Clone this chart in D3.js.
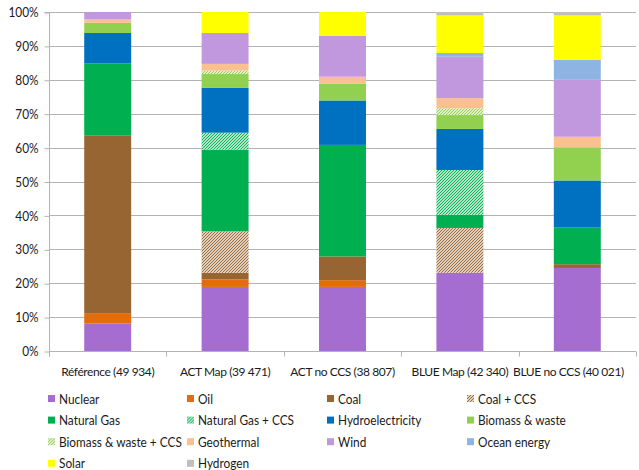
<!DOCTYPE html>
<html>
<head>
<meta charset="utf-8">
<script src="https://cdn.jsdelivr.net/npm/d3@7"></script>
<style>
  html, body { margin: 0; padding: 0; background: #fff; }
  svg { display: block; font-family: Lato, "Open Sans", sans-serif; }
</style>
</head>
<body>
<svg id="chart" width="639" height="470"></svg>
<script>
// Scenario columns
const categories = ["Référence (49 934)", "ACT Map (39 471)", "ACT no CCS (38 807)", "BLUE Map (42 340)", "BLUE no CCS (40 021)"];

// Share of electricity generation by source, in percent, one value per scenario
const nuclear       = [8.1, 18.9, 18.9, 23.1, 24.5];
const oil           = [2.9, 2.2, 2.0, 0, 0];
const coal          = [52.5, 2.0, 7.0, 0, 1.1];
const coalCcs       = [0, 12.2, 0, 13.2, 0];
const naturalGas    = [21.3, 24.1, 32.9, 3.9, 10.8];
const naturalGasCcs = [0, 5.0, 0, 13.2, 0];
const hydro         = [9.0, 13.2, 13.1, 12.1, 13.9];
const biomass       = [3.0, 4.1, 4.9, 4.1, 9.8];
const biomassCcs    = [0, 1.0, 0, 2.0, 0];
const geothermal    = [1.0, 2.0, 2.1, 3.0, 3.1];
const wind          = [2.2, 9.1, 12.1, 12.2, 16.8];
const ocean         = [0, 0, 0, 1.1, 5.9];
const solar         = [0, 6.2, 7.0, 11.1, 13.1];
const hydrogen      = [0, 0, 0, 1.0, 1.0];

const yTicks = [0, 10, 20, 30, 40, 50, 60, 70, 80, 90, 100];

const series = [
  { name: "Nuclear",                values: nuclear,       color: "#A46DCF" },
  { name: "Oil",                    values: oil,           color: "#E46C0A" },
  { name: "Coal",                   values: coal,          color: "#976532" },
  { name: "Coal + CCS",             values: coalCcs,       color: "#976532", hatch: true },
  { name: "Natural Gas",            values: naturalGas,    color: "#00B050" },
  { name: "Natural Gas + CCS",      values: naturalGasCcs, color: "#00B050", hatch: true },
  { name: "Hydroelectricity",       values: hydro,         color: "#0070C0" },
  { name: "Biomass & waste",        values: biomass,       color: "#92D050" },
  { name: "Biomass & waste + CCS",  values: biomassCcs,    color: "#92D050", hatch: true },
  { name: "Geothermal",             values: geothermal,    color: "#FAC090" },
  { name: "Wind",                   values: wind,          color: "#C198DE" },
  { name: "Ocean energy",           values: ocean,         color: "#8EB4E3" },
  { name: "Solar",                  values: solar,         color: "#FFFF00" },
  { name: "Hydrogen",               values: hydrogen,      color: "#BFBFBF" }
];

const svg = d3.select("#chart");
const margin = { left: 49, right: 3, top: 12, bottom: 119 };
const W = 639, H = 470;
const textColor = "#1a1a1a";
const condense = 0.91;

const x = d3.scaleBand()
  .domain(categories)
  .range([margin.left, W - margin.right])
  .paddingInner(0.6)
  .paddingOuter(0.3);

const y = d3.scaleLinear()
  .domain([0, 100])
  .range([H - margin.bottom, margin.top]);

// Diagonal hatch patterns for the CCS variants
const defs = svg.append("defs");
series.filter(s => s.hatch).forEach((s, i) => {
  s.patternId = "hatch" + i;
  const p = defs.append("pattern")
    .attr("id", s.patternId)
    .attr("patternUnits", "userSpaceOnUse")
    .attr("width", 3).attr("height", 3);
  p.append("rect").attr("width", 3).attr("height", 3).attr("fill", "#fff");
  p.append("path")
    .attr("d", "M-0.75,0.75 L0.75,-0.75 M0,3 L3,0 M2.25,3.75 L3.75,2.25")
    .attr("stroke", s.color)
    .attr("stroke-width", 1.15);
});
const fillOf = s => s.hatch ? `url(#${s.patternId})` : s.color;

// Horizontal gridlines
svg.append("g")
  .selectAll("line")
  .data(yTicks.filter(t => t > 0))
  .join("line")
  .attr("x1", margin.left).attr("x2", W - margin.right)
  .attr("y1", d => Math.round(y(d)) + 0.5).attr("y2", d => Math.round(y(d)) + 0.5)
  .attr("stroke", "#B3B3B3").attr("stroke-width", 1);

// Y axis
const yAxis = d3.axisLeft(y).tickValues(yTicks).tickFormat(d => d + "%").tickSize(5).tickPadding(6);
const gy = svg.append("g").attr("transform", `translate(${margin.left + 0.5},0.5)`).call(yAxis);
gy.select(".domain").attr("stroke", "#B3B3B3").attr("d", `M-5,${y(100)}H0V${y(0) + 5}`);
gy.selectAll(".tick line").attr("stroke", "#B3B3B3");
gy.selectAll(".tick text").attr("font-size", 13).attr("fill", textColor)
  .attr("font-family", "Lato, 'Open Sans', sans-serif");

// Stacked bars
const stackData = categories.map((c, i) => {
  const row = { category: c };
  series.forEach(s => row[s.name] = s.values[i]);
  return row;
});
const stacked = d3.stack().keys(series.map(s => s.name))(stackData);

const gBars = svg.append("g");
stacked.forEach((layer, li) => {
  const s = series[li];
  gBars.append("g")
    .selectAll("rect")
    .data(layer.filter(d => d[1] - d[0] > 0))
    .join("rect")
    .attr("x", d => x(d.data.category))
    .attr("width", x.bandwidth())
    .attr("y", d => y(d[1]))
    .attr("height", d => y(d[0]) - y(d[1]))
    .attr("fill", fillOf(s));
});

// X axis line with category boundary ticks
const baseY = Math.round(y(0)) + 0.5;
svg.append("line")
  .attr("x1", margin.left).attr("x2", W - margin.right)
  .attr("y1", baseY).attr("y2", baseY)
  .attr("stroke", "#B3B3B3");
const boundaryX = i => Math.round(margin.left + i * x.step()) + 0.5;
svg.append("g").selectAll("line")
  .data(d3.range(categories.length + 1))
  .join("line")
  .attr("x1", boundaryX).attr("x2", boundaryX)
  .attr("y1", baseY).attr("y2", baseY + 5)
  .attr("stroke", "#B3B3B3");

// Legend: 4 columns, row-major
const legCols = [48, 187, 327, 467];
const legRow0 = 399, legRowH = 21.6;
const leg = svg.append("g").selectAll("g")
  .data(series)
  .join("g")
  .attr("transform", (d, i) => `translate(${legCols[i % 4]},${legRow0 + Math.floor(i / 4) * legRowH})`);
leg.append("rect")
  .attr("x", 0).attr("y", -4)
  .attr("width", 7).attr("height", 7)
  .attr("fill", d => fillOf(d));
leg.append("text")
  .attr("x", 11).attr("y", 0)
  .attr("dy", "0.35em")
  .attr("font-size", 13)
  .attr("fill", textColor)
  .text(d => d.name);

// Narrow the sans-serif glyphs for a condensed look; anchors are resolved
// by hand so each compressed run stays where it belongs
svg.selectAll("text").each(function () {
  const w = this.getComputedTextLength();
  if (!(w > 0)) return;
  const tl = w * condense;
  const anchor = this.getAttribute("text-anchor") ||
    (this.parentNode && this.parentNode.parentNode && this.parentNode.parentNode.getAttribute &&
     this.parentNode.parentNode.getAttribute("text-anchor")) || "start";
  let x0 = +(this.getAttribute("x") || 0);
  if (anchor === "middle") x0 -= tl / 2;
  else if (anchor === "end") x0 -= tl;
  this.setAttribute("x", x0.toFixed(2));
  this.setAttribute("text-anchor", "start");
  this.setAttribute("textLength", tl.toFixed(2));
  this.setAttribute("lengthAdjust", "spacingAndGlyphs");
});

// Category labels: tighter tracking instead of glyph compression,
// kept clear of the right edge of the chart
const rightLimit = W - 15;
svg.append("g").selectAll("text")
  .data(categories)
  .join("text")
  .attr("x", d => x(d) + x.bandwidth() / 2)
  .attr("y", 376)
  .attr("text-anchor", "middle")
  .attr("font-size", 12)
  .attr("letter-spacing", "-0.4px")
  .attr("fill", textColor)
  .text(d => d)
  .each(function () {
    const b = this.getBBox();
    const over = b.x + b.width - rightLimit;
    if (over > 0) this.setAttribute("x", (+this.getAttribute("x") - over).toFixed(2));
  });
</script>
</body>
</html>
